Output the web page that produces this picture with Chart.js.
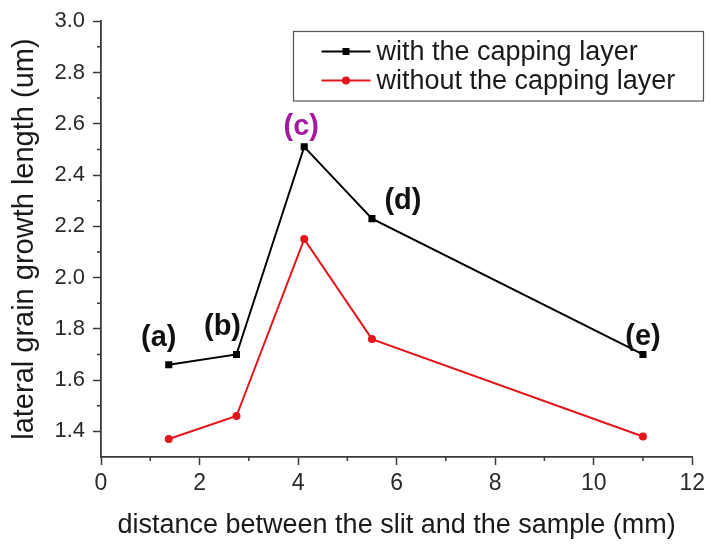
<!DOCTYPE html>
<html>
<head>
<meta charset="utf-8">
<script src="https://cdn.jsdelivr.net/npm/chart.js@4.4.1/dist/chart.umd.min.js"></script>
<style>
  html, body { margin: 0; padding: 0; background: #fff; }
  #wrap { width: 710px; height: 545px; }
</style>
</head>
<body>
<div id="wrap"><canvas id="grainChart" width="710" height="545"></canvas></div>
<script>
// distance between slit and sample (mm)
const distance = [1.375, 2.75, 4.125, 5.5, 11];
// lateral grain growth length (um)
const withCapping = [1.66, 1.70, 2.51, 2.23, 1.70];
const withoutCapping = [1.37, 1.46, 2.15, 1.76, 1.38];
const pointNames = ["(a)", "(b)", "(c)", "(d)", "(e)"];
const seriesNames = ["with the capping layer", "without the capping layer"];

const xTicks = [0, 2, 4, 6, 8, 10, 12];
const xMinor = [1, 3, 5, 7, 9, 11];
const yTicks = [1.4, 1.6, 1.8, 2.0, 2.2, 2.4, 2.6, 2.8, 3.0];
const yMinor = [1.5, 1.7, 1.9, 2.1, 2.3, 2.5, 2.7, 2.9];

const FONT = "'Liberation Sans', Arial, sans-serif";
const AXIS_COLOR = "#3a3a3a";

// short ticks between the labelled ones
const minorTicks = {
  id: "minorTicks",
  afterDraw(chart) {
    const { ctx, scales } = chart;
    const xs = scales.x, ys = scales.y;
    ctx.save();
    ctx.strokeStyle = AXIS_COLOR;
    ctx.lineWidth = 1.5;
    ctx.beginPath();
    xMinor.forEach((v) => {
      const px = xs.getPixelForValue(v);
      ctx.moveTo(px, ys.bottom);
      ctx.lineTo(px, ys.bottom + 4);
    });
    yMinor.forEach((v) => {
      const py = ys.getPixelForValue(v);
      ctx.moveTo(xs.left, py);
      ctx.lineTo(xs.left - 4, py);
    });
    ctx.stroke();
    ctx.restore();
  },
};

// (a)...(e) tags next to the capped series
const pointTags = {
  id: "pointTags",
  afterDatasetsDraw(chart, args, opts) {
    const { ctx } = chart;
    const meta = chart.getDatasetMeta(0);
    ctx.save();
    ctx.font = "bold 29px " + FONT;
    ctx.textAlign = "center";
    ctx.textBaseline = "middle";
    meta.data.forEach((pt, i) => {
      const [dx, dy] = opts.offsets[i];
      ctx.fillStyle = opts.colors[i];
      ctx.fillText(pointNames[i], pt.x + dx, pt.y + dy);
    });
    ctx.restore();
  },
};

// boxed legend with line-marker-line symbols
const boxLegend = {
  id: "boxLegend",
  afterDraw(chart, args, opts) {
    const { ctx } = chart;
    const { x, y, w, h, rows } = opts;
    ctx.save();
    ctx.strokeStyle = "#555";
    ctx.lineWidth = 1.2;
    ctx.strokeRect(x, y, w, h);
    ctx.font = "27px " + FONT;
    ctx.textBaseline = "middle";
    ctx.textAlign = "left";
    chart.data.datasets.forEach((ds, i) => {
      const ry = y + rows[i];
      ctx.strokeStyle = ds.borderColor;
      ctx.lineWidth = 2;
      ctx.beginPath();
      ctx.moveTo(x + 28, ry);
      ctx.lineTo(x + 77, ry);
      ctx.stroke();
      ctx.fillStyle = ds.borderColor;
      if (ds.pointStyle === "rect") {
        ctx.fillRect(x + 49, ry - 3.5, 7, 7);
      } else {
        ctx.beginPath();
        ctx.arc(x + 52.5, ry, 4, 0, Math.PI * 2);
        ctx.fill();
      }
      ctx.fillStyle = "#1a1a1a";
      ctx.fillText(ds.label, x + 83, ry + 1);
    });
    ctx.restore();
  },
};

const ctx = document.getElementById("grainChart").getContext("2d");
new Chart(ctx, {
  type: "scatter",
  data: {
    datasets: [
      {
        label: seriesNames[0],
        data: distance.map((d, i) => ({ x: d, y: withCapping[i] })),
        showLine: true,
        borderColor: "#000000",
        backgroundColor: "#000000",
        borderWidth: 2,
        pointStyle: "rect",
        pointRadius: 5,
        pointBorderWidth: 0,
      },
      {
        label: seriesNames[1],
        data: distance.map((d, i) => ({ x: d, y: withoutCapping[i] })),
        showLine: true,
        borderColor: "#e3161b",
        backgroundColor: "#e3161b",
        borderWidth: 2,
        pointStyle: "circle",
        pointRadius: 4,
        pointBorderWidth: 0,
      },
    ],
  },
  options: {
    responsive: false,
    animation: false,
    layout: { padding: { left: 0, top: 21, right: 17, bottom: 0 } },
    plugins: {
      legend: { display: false },
      tooltip: { enabled: false },
      boxLegend: { x: 293.5, y: 31.5, w: 410, h: 69.5, rows: [20, 49] },
      pointTags: {
        offsets: [[-10, -27], [-14, -27], [-3, -20], [31, -18], [0, -17]],
        colors: ["#111", "#111", "#a3199f", "#111", "#111"],
      },
    },
    scales: {
      x: {
        type: "linear",
        min: 0,
        max: 12,
        afterBuildTicks: (scale) => {
          scale.ticks = xTicks.map((v) => ({ value: v }));
        },
        afterFit: (scale) => {
          scale.height = 88;
        },
        grid: {
          drawOnChartArea: false,
          drawTicks: true,
          tickLength: 8,
          tickWidth: 1.5,
          tickColor: AXIS_COLOR,
        },
        border: { display: true, color: AXIS_COLOR, width: 1.8 },
        ticks: {
          padding: 5,
          color: "#2a2a2a",
          font: { family: FONT, size: 23 },
          maxRotation: 0,
        },
        title: {
          display: true,
          text: "distance between the slit and the sample (mm)",
          color: "#1a1a1a",
          font: { family: FONT, size: 27 },
          padding: { top: 0, bottom: 3 },
        },
      },
      y: {
        type: "linear",
        min: 1.3,
        max: 3.0,
        afterBuildTicks: (scale) => {
          scale.ticks = yTicks.map((v) => ({ value: v }));
        },
        afterFit: (scale) => {
          scale.width = 101;
        },
        grid: {
          drawOnChartArea: false,
          drawTicks: true,
          tickLength: 8,
          tickWidth: 1.5,
          tickColor: AXIS_COLOR,
        },
        border: { display: true, color: AXIS_COLOR, width: 1.8 },
        ticks: {
          padding: 8,
          color: "#2a2a2a",
          font: { family: FONT, size: 22 },
          callback: (v) => Number(v).toFixed(1),
        },
        title: {
          display: true,
          text: "lateral grain growth length (um)",
          color: "#1a1a1a",
          font: { family: FONT, size: 29 },
          padding: { top: 8, bottom: 0 },
        },
      },
    },
  },
  plugins: [minorTicks, pointTags, boxLegend],
});
</script>
</body>
</html>
